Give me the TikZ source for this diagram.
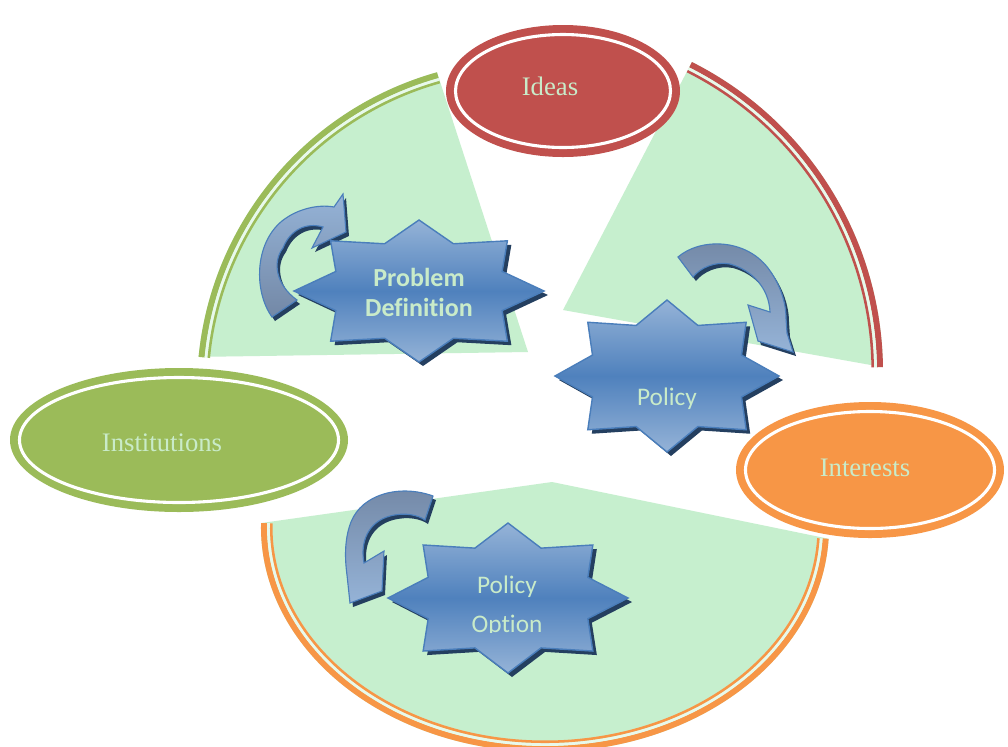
\documentclass[tikz,border=0pt]{standalone}
\usepackage{fontspec}
\setmainfont{Liberation Serif}
\newfontfamily\calibrifont[Ligatures=NoCommon]{Carlito}

\definecolor{sector}{HTML}{C6EFCE}
\definecolor{ideasred}{HTML}{C0504D}
\definecolor{instgreen}{HTML}{9BBB59}
\definecolor{intorange}{HTML}{F79646}
\definecolor{starmid}{HTML}{4F81BD}
\definecolor{starlight}{HTML}{95B3D7}
\definecolor{starline}{HTML}{4A7EBB}
\definecolor{shadowblue}{HTML}{243F60}
\definecolor{arrowgrey}{HTML}{7388A6}
\definecolor{labelgreen}{HTML}{C9EBC9}

% star with 8 points: centre x, centre y, x radius, y radius
\newcommand{\starburst}[4]{%
  \pgfmathsetmacro\irx{0.72*#3}\pgfmathsetmacro\iry{0.72*#4}%
  \begin{scope}[shift={(#1+4,#2+4)}]
    \fill[shadowblue] (0:#3 and #4) \foreach \k in {0,...,7} {-- ({\k*45+22.5}:{\irx} and {\iry}) -- ({\k*45+45}:#3 and #4)} -- cycle;
  \end{scope}
  \begin{scope}[shift={(#1,#2)}]
    \shadedraw[draw=starline, line width=1pt, top color=starlight, bottom color=starlight, middle color=starmid]
      (0:#3 and #4) \foreach \k in {0,...,7} {-- ({\k*45+22.5}:{\irx} and {\iry}) -- ({\k*45+45}:#3 and #4)} -- cycle;
  \end{scope}}

% double rim of a sector: x radius, y radius, start angle, end angle, colour
\newcommand{\rim}[5]{%
  \draw[#5, line width=4.3pt] (#3:#1-3 and #2-3) arc[start angle=#3, end angle=#4, x radius=#1-3, y radius=#2-3];
  \draw[sector!40!white, line width=2.1pt] (#3:#1-7.5 and #2-7.5) arc[start angle=#3, end angle=#4, x radius=#1-7.5, y radius=#2-7.5];
  \draw[#5, line width=1.8pt] (#3:#1-10.25 and #2-10.25) arc[start angle=#3, end angle=#4, x radius=#1-10.25, y radius=#2-10.25];}

% curved arrows
\newcommand{\arrowA}{(272,317) .. controls (254,292) and (254,244) .. (282,221) .. controls (297,209) and (318,204) .. (334,207) -- (343,194) -- (346,232) -- (312,248) -- (323,227) .. controls (306,222) and (290,230) .. (283,248) .. controls (272,262) and (276,285) .. (297,300) -- cycle}
\newcommand{\arrowB}{(678,257) .. controls (700,238) and (745,238) .. (768,268) .. controls (780,284) and (786,302) .. (786,318) -- (787,333) -- (793,352) -- (758,341) -- (748,305) -- (770,312) .. controls (769,288) and (752,270) .. (730,264) .. controls (715,261) and (700,268) .. (693,277) -- cycle}
\newcommand{\arrowC}{(433,496) .. controls (400,484) and (362,494) .. (351,522) .. controls (344,540) and (345,560) .. (347,575) -- (350,603) -- (382,591) -- (384,551) -- (364,563) .. controls (360,542) and (368,522) .. (390,516) .. controls (405,512) and (418,515) .. (425,520) -- cycle}

\begin{document}
\begin{tikzpicture}[x=0.025cm, y=-0.025cm,
    ovaltext/.style={text=labelgreen, font=\fontsize{19}{23}\selectfont},
    startext/.style={text=labelgreen, align=center},
    arrowbody/.style={draw=starline, line width=0.8pt}]

    \fill[white] (0,0) rectangle (1008,746);
    \useasboundingbox (0,0) rectangle (1008,746);

    % sectors
    \begin{scope}[shift={(526,389)}] %problem definition
        \fill[sector] (2,-37) -- (-105.7:329) arc[start angle=-105.7, end angle=-174.4, radius=329] -- cycle;
        \rim{329}{329}{-105.7}{-174.4}{instgreen}
    \end{scope}
    \begin{scope}[shift={(536,372)}] %policy
        \fill[sector] (27,-62) -- (-63.3:347) arc[start angle=-63.3, end angle=-0.8, radius=347] -- cycle;
        \rim{347}{347}{-63.3}{-0.8}{ideasred}
    \end{scope}
    \begin{scope}[shift={(545,527)}] %policy option
        \fill[sector] (7,-45) -- (181:284 and 225) arc[start angle=181, end angle=3, x radius=284, y radius=225] -- cycle;
        \rim{284}{225}{181}{3}{intorange}
    \end{scope}

    % ovals
    \fill[ideasred] (563,91) ellipse[x radius=117, y radius=66];
    \draw[white, line width=2.2pt] (563,91) ellipse[x radius=107.5, y radius=56.5];
    \fill[instgreen] (179,440) ellipse[x radius=169, y radius=72];
    \draw[white, line width=2.2pt] (179,440) ellipse[x radius=159.5, y radius=62.5];
    \fill[intorange] (870,470) ellipse[x radius=134, y radius=68];
    \draw[white, line width=2.2pt] (870,470) ellipse[x radius=124.5, y radius=58.5];

    \node[ovaltext] (ideas) at (550,86) {Ideas};
    \node[ovaltext] (inst) at (162,443) {Institutions};
    \node[ovaltext] (inter) at (865,468) {Interests};

    % arrows
    \fill[shadowblue, shift={(3,4)}] \arrowA;
    \shadedraw[arrowbody, top color=starlight, middle color=starmid, bottom color=arrowgrey] \arrowA;
    \fill[shadowblue, shift={(3,4)}] \arrowB;
    \shadedraw[arrowbody, top color=arrowgrey, middle color=starmid, bottom color=starlight] \arrowB;
    \fill[shadowblue, shift={(3,4)}] \arrowC;
    \shadedraw[arrowbody, top color=arrowgrey, middle color=starmid, bottom color=starlight] \arrowC;

    % stars
    \starburst{419}{291}{125}{71}
    \starburst{667}{376}{112}{76}
    \starburst{508}{598}{120}{75}

    \node[startext, font=\calibrifont\bfseries\fontsize{18.5}{21.3}\selectfont] (probdef) at (419,292) {Problem\\Definition};
    \node[startext, font=\calibrifont\fontsize{18}{22}\selectfont] (policy) at (667,399) {Policy};
    \begin{scope}
        \clip (430,560) rectangle (590,632);
        \node[startext, font=\calibrifont\fontsize{18}{27.7}\selectfont] (polopt) at (507,606) {Policy\\Option};
    \end{scope}

\end{tikzpicture}
\end{document}
